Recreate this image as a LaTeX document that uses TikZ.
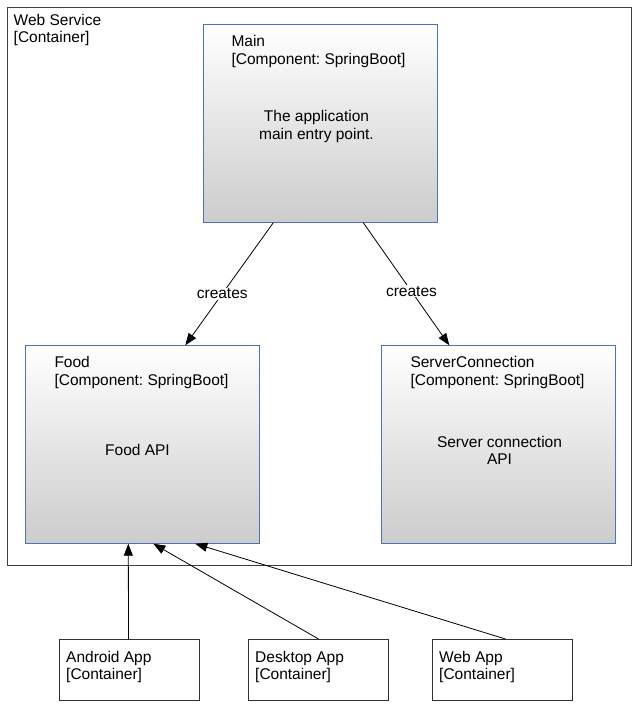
\documentclass[tikz,border=0pt]{standalone}
\usepackage{fontspec}
\setmainfont{Liberation Sans}
\usetikzlibrary{arrows.meta,positioning}
\definecolor{compblue}{HTML}{4A73B8}
\definecolor{compgray}{HTML}{CCCCCC}
\frenchspacing
\tikzset{
  every node/.style={font=\fontsize{15.5}{17.5}\selectfont},
  component/.style={top color=white, bottom color=compgray,
    minimum width=234pt, minimum height=198pt, inner sep=0pt},
  compframe/.style={draw=compblue, line width=1.3pt},
  container/.style={draw=black!80, line width=1pt, fill=white,
    minimum width=140pt, minimum height=61pt, inner sep=0pt},
  boxtitle/.style={anchor=north west, align=left, inner sep=0pt},
  boxdesc/.style={align=center, inner sep=0pt},
  link/.style={-{Triangle[length=12pt,width=9pt]}, line width=0.8pt},
  linklabel/.style={fill=white, inner sep=1pt},
}
\begin{document}
\begin{tikzpicture}[x=1pt,y=-1pt]
  \useasboundingbox (0,0) rectangle (639,711);
  % web service container
  \node[draw=black!75, line width=1pt, minimum width=624pt, minimum height=558pt, inner sep=0pt]
    (websvc) at (319.5,286.5) {};
  \node[boxtitle] (websvctitle) at ([xshift=6.5pt,yshift=-7pt]websvc.north west) {Web Service\\{[Container]}};
  % components
  \node[component] (main) at (320.5,123.5) {};
  \node[component] (food) at (142.5,444.5) {};
  \node[component] (server) at (498.5,444.5) {};
  \foreach \c in {main,food,server}
    \draw[compframe] (\c.north west) rectangle (\c.south east);
  \node[boxtitle] (maintitle) at ([xshift=28pt,yshift=-11pt]main.north west) {Main\\{[Component: SpringBoot]}};
  \node[boxtitle] (foodtitle) at ([xshift=29pt,yshift=-11pt]food.north west) {Food\\{[Component: SpringBoot]}};
  \node[boxtitle] (servertitle) at ([xshift=29pt,yshift=-11pt]server.north west) {ServerConnection\\{[Component: SpringBoot]}};
  \node[boxdesc] (maindesc) at ([xshift=-4pt,yshift=-3pt]main.center) {The application\\main entry point.};
  \node[boxdesc] (fooddesc) at ([xshift=-5pt,yshift=-5pt]food.center) {Food API};
  \node[boxdesc] (serverdesc) at ([xshift=1pt,yshift=-6pt]server.center) {Server connection\\API};
  % client apps
  \node[container] (android) at (129.5,670) {};
  \node[container] (desktop) at (318.5,670) {};
  \node[container] (webapp) at (502.5,670) {};
  \node[boxtitle] (androidtitle) at ([xshift=7pt,yshift=-12pt]android.north west) {Android App\\{[Container]}};
  \node[boxtitle] (desktoptitle) at ([xshift=7pt,yshift=-12pt]desktop.north west) {Desktop App\\{[Container]}};
  \node[boxtitle] (webapptitle) at ([xshift=7pt,yshift=-12pt]webapp.north west) {Web App\\{[Container]}};
  % connectors
  \draw[link] ([xshift=70pt]main.south west) -- node[linklabel, pos=0.58] {creates} ([xshift=160pt]food.north west);
  \draw[link] ([xshift=160pt]main.south west) -- node[linklabel, pos=0.56] {creates} ([xshift=68pt]server.north west);
  \draw[link] ([xshift=-1pt]android.north) -- ([xshift=103pt]food.south west);
  \draw[link] (desktop.north) -- ([xshift=128pt]food.south west);
  \draw[link] ([xshift=3pt]webapp.north) -- ([xshift=170pt]food.south west);
\end{tikzpicture}
\end{document}
